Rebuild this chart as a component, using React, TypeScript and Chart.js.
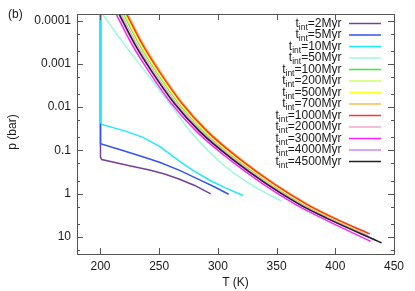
import React, { useEffect, useRef } from 'react';
import { Chart, registerables } from 'chart.js';
Chart.register(...registerables);

const FONT = '"Liberation Sans", Arial, Helvetica, sans-serif';

const SERIES_LABELS = ['2Myr', '5Myr', '10Myr', '50Myr', '100Myr', '200Myr', '500Myr', '700Myr', '1000Myr', '2000Myr', '3000Myr', '4000Myr', '4500Myr'];
const SERIES_COLORS = ['#74409c', '#3552f2', '#1fe9ff', '#9cf8dc', '#33ee33', '#ccff66', '#ffff22', '#ffbb55', '#ff3333', '#f0a8c8', '#ff22ff', '#cc88ff', '#222222'];

// temperature (K) / pressure (bar) profiles
const T_2MYR = [200, 200, 201.1, 224.7, 241.8, 254.6, 267.4, 280.2, 293.9];
const P_2MYR = [5e-5, 0.143, 0.164, 0.227, 0.286, 0.354, 0.467, 0.65, 1.02];

const T_5MYR = [200, 200, 216.2, 233.3, 250.3, 267.4, 284.5, 297.3, 309.2];
const P_5MYR = [5e-5, 0.0702, 0.0959, 0.133, 0.189, 0.292, 0.482, 0.708, 1.04];

const T_10MYR = [200, 200, 201.1, 221.9, 236.1, 250.3, 257.2, 264.6, 271.7, 278.8, 293.0, 307.3, 321.4];
const P_10MYR = [5e-5, 0.0222, 0.0251, 0.0365, 0.0501, 0.0809, 0.111, 0.157, 0.216, 0.292, 0.493, 0.762, 1.11];

const T_50MYR = [200.7, 220.5, 237.5, 258.9, 278.1, 307.3, 331.4, 354.2];
const P_50MYR = [6.5e-5, 3.58e-4, 1.43e-3, 8.24e-3, 0.0406, 0.25, 0.7, 1.5];

// common pressure levels of the older profiles, plus each one's deepest point
const P_BAND = [5.9e-5, 3.4e-4, 1.59e-3, 8.24e-3, 0.0365, 0.165, 0.6, 1.8, 3.7];

const T_100MYR = [218.3, 232.8, 248.2, 266.9, 288.3, 316.7, 345.2, 373.6, 396.4, 425];
const P_100MYR = [...P_BAND, 8.3];
const T_200MYR = [219.0, 233.5, 248.9, 267.6, 289.0, 317.4, 345.9, 374.3, 397.1, 425];
const P_200MYR = [...P_BAND, 8.1];
const T_500MYR = [219.7, 234.2, 249.6, 268.3, 289.7, 318.1, 346.6, 375.0, 397.8, 424];
const P_500MYR = [...P_BAND, 7.8];
const T_700MYR = [221.8, 236.3, 251.7, 270.4, 291.8, 320.2, 348.7, 377.1, 399.9, 422.4];
const P_700MYR = [...P_BAND, 7.2];
const T_1000MYR = [220.8, 235.3, 250.7, 269.4, 290.8, 319.2, 347.7, 376.1, 398.9, 429.5];
const P_1000MYR = [...P_BAND, 8.6];
const T_2000MYR = [216.2, 230.7, 246.1, 264.8, 286.2, 314.6, 343.1, 371.5, 394.3, 428];
const P_2000MYR = [...P_BAND, 9.55];
const T_3000MYR = [211.9, 226.4, 241.8, 260.4, 281.7, 310.0, 338.2, 366.3, 388.6, 430];
const P_3000MYR = [...P_BAND, 12.7];
const T_4000MYR = [214.0, 228.5, 243.9, 262.6, 284.0, 312.4, 340.9, 369.3, 392.1, 435.5];
const P_4000MYR = [...P_BAND, 12.5];
const T_4500MYR = [214.5, 229.0, 244.4, 263.1, 284.5, 312.9, 341.4, 369.8, 392.6, 439.5];
const P_4500MYR = [...P_BAND, 13.9];

const SERIES_T = [T_2MYR, T_5MYR, T_10MYR, T_50MYR, T_100MYR, T_200MYR, T_500MYR, T_700MYR, T_1000MYR, T_2000MYR, T_3000MYR, T_4000MYR, T_4500MYR];
const SERIES_P = [P_2MYR, P_5MYR, P_10MYR, P_50MYR, P_100MYR, P_200MYR, P_500MYR, P_700MYR, P_1000MYR, P_2000MYR, P_3000MYR, P_4000MYR, P_4500MYR];
const SERIES_MONOTONE = [false, false, false, true, true, true, true, true, true, true, true, true, true];

const X_TICKS = [200, 250, 300, 350, 400, 450];
const Y_TICKS = [1e-4, 1e-3, 1e-2, 0.1, 1, 10];
const Y_TICK_LABELS = ['0.0001', '0.001', '0.01', '0.1', '1', '10'];
const Y_MINOR = [2e-4, 5e-4, 2e-3, 5e-3, 2e-2, 5e-2, 0.2, 0.5, 2, 5, 20];

const X_MIN = 180, X_MAX = 450;
const Y_MIN = 7.27e-5, Y_MAX = 25.1;

const overlay = {
  id: 'overlay',
  afterDraw(chart: any) {
    const ctx = chart.ctx as CanvasRenderingContext2D;
    const { left, right, top, bottom } = chart.chartArea;
    const xs = chart.scales.x, ys = chart.scales.y;
    ctx.save();
    // frame
    ctx.strokeStyle = '#555555';
    ctx.lineWidth = 1;
    ctx.strokeRect(left + 0.5, top + 0.5, right - left, bottom - top);
    // ticks
    ctx.beginPath();
    const maj = 6, mnr = 3;
    X_TICKS.forEach(v => {
      const px = Math.round(xs.getPixelForValue(v)) + 0.5;
      ctx.moveTo(px, bottom); ctx.lineTo(px, bottom - maj);
      ctx.moveTo(px, top); ctx.lineTo(px, top + maj);
    });
    Y_TICKS.forEach(v => {
      const py = Math.round(ys.getPixelForValue(v)) + 0.5;
      ctx.moveTo(left, py); ctx.lineTo(left + maj, py);
      ctx.moveTo(right, py); ctx.lineTo(right - maj, py);
    });
    Y_MINOR.forEach(v => {
      const py = Math.round(ys.getPixelForValue(v)) + 0.5;
      if (py < top || py > bottom) return;
      ctx.moveTo(left, py); ctx.lineTo(left + mnr, py);
      ctx.moveTo(right, py); ctx.lineTo(right - mnr, py);
    });
    ctx.stroke();

    // titles
    ctx.fillStyle = '#1a1a1a';
    ctx.font = `12px ${FONT}`;
    ctx.textAlign = 'center';
    ctx.textBaseline = 'middle';
    ctx.fillText('T (K)', (left + right) / 2, 283);
    ctx.save();
    ctx.translate(13, 132);
    ctx.rotate(-Math.PI / 2);
    ctx.fillText('p (bar)', 0, 0);
    ctx.restore();
    ctx.textAlign = 'left';
    ctx.fillText('(b)', 8, 15);

    // legend
    const xr = 341.5;
    const mainFont = `12px ${FONT}`;
    const subFont = `8.5px ${FONT}`;
    ctx.textBaseline = 'alphabetic';
    SERIES_LABELS.forEach((lab, i) => {
      const y = 23 + 11.5 * i;
      const rest = '=' + lab;
      ctx.font = mainFont;
      const wRest = ctx.measureText(rest).width;
      const wT = ctx.measureText('t').width;
      ctx.font = subFont;
      const wSub = ctx.measureText('int').width;
      ctx.fillStyle = '#1a1a1a';
      ctx.font = mainFont;
      ctx.fillText(rest, xr - wRest, y + 3.5);
      ctx.fillText('t', xr - wRest - wSub - wT, y + 3.5);
      ctx.font = subFont;
      ctx.fillText('int', xr - wRest - wSub, y + 6.5);
      ctx.strokeStyle = SERIES_COLORS[i];
      ctx.lineWidth = 1.5;
      ctx.beginPath();
      ctx.moveTo(349, y + 0.5);
      ctx.lineTo(381, y + 0.5);
      ctx.stroke();
    });
    ctx.restore();
  },
};

export default function App() {
  const ref = useRef<HTMLCanvasElement | null>(null);
  useEffect(() => {
    if (!ref.current) return;
    const datasets = SERIES_LABELS.map((lab, i) => ({
      label: lab,
      data: SERIES_T[i].map((t, j) => ({ x: t, y: SERIES_P[i][j] })),
      borderColor: SERIES_COLORS[i],
      backgroundColor: SERIES_COLORS[i],
      borderWidth: 1.5,
      pointRadius: 0,
      tension: 0,
      cubicInterpolationMode: SERIES_MONOTONE[i] ? 'monotone' : 'default',
      fill: false,
      order: SERIES_LABELS.length - i,
    }));
    const chart = new Chart(ref.current, {
      type: 'line',
      data: { datasets },
      plugins: [overlay],
      options: {
        animation: false,
        responsive: false,
        devicePixelRatio: 1,
        layout: { padding: { left: 0, top: 14, right: 21, bottom: 0 } },
        plugins: { legend: { display: false }, tooltip: { enabled: false } },
        scales: {
          x: {
            type: 'linear',
            min: X_MIN,
            max: X_MAX,
            grid: { display: false, drawTicks: false },
            border: { display: false },
            afterBuildTicks: (s: any) => { s.ticks = X_TICKS.map(v => ({ value: v })); },
            afterFit: (s: any) => { s.height = 37; s.paddingLeft = 0; s.paddingRight = 0; },
            ticks: {
              autoSkip: false, maxRotation: 0, padding: 5,
              color: '#1a1a1a', font: { family: FONT, size: 12 },
              callback: (v: any) => String(v),
            },
          },
          y: {
            type: 'logarithmic',
            reverse: true,
            min: Y_MIN,
            max: Y_MAX,
            grid: { display: false, drawTicks: false },
            border: { display: false },
            afterBuildTicks: (s: any) => { s.ticks = Y_TICKS.map(v => ({ value: v })); },
            afterFit: (s: any) => { s.width = 77; s.paddingTop = 0; s.paddingBottom = 0; },
            ticks: {
              autoSkip: false, padding: 6,
              color: '#1a1a1a', font: { family: FONT, size: 12 },
              callback: (_v: any, idx: number) => Y_TICK_LABELS[idx],
            },
          },
        },
      } as any,
    });
    return () => chart.destroy();
  }, []);
  return (
    <div style={{ position: 'absolute', left: 0, top: 0, width: 415, height: 291, background: '#fff' }}>
      <canvas ref={ref} width={415} height={291} style={{ width: 415, height: 291 }} />
    </div>
  );
}
